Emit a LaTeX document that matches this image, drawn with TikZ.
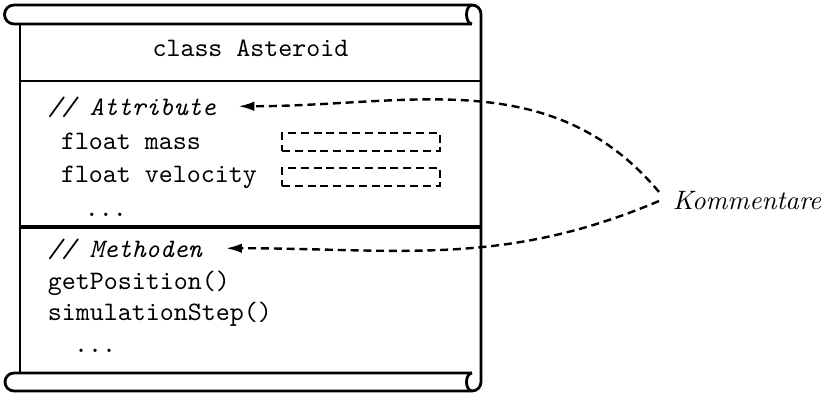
\documentclass[tikz,border=0pt]{standalone}
\usetikzlibrary{arrows.meta}
\begin{document}
\begin{tikzpicture}[x=0.375pt,y=0.375pt,
  frame/.style={line width=1.05pt, line join=round},
  code/.style={font=\ttfamily, anchor=base west, inner sep=0pt, outer sep=0pt},
  comment/.style={font=\ttfamily\itshape, anchor=base west, inner sep=0pt, outer sep=0pt},
  dashline/.style={line width=0.9pt, dash pattern=on 3pt off 1.8pt},
  slot/.style={draw, dashline, minimum width=59.25pt, minimum height=6.75pt, inner sep=0pt, outer sep=0pt},
  kom/.style={font=\itshape, anchor=base west, inner sep=5pt},
  arr/.style={dashline, -{Latex[length=6pt,width=3.6pt]}}
]
\useasboundingbox (0,0) rectangle (824,-393);

% scroll: top roll
\draw[frame] (472,-24) -- (14,-24) arc[start angle=270, end angle=90, radius=9.5]
  -- (472,-5) arc[start angle=90, end angle=0, radius=9]
  -- (481,-382) arc[start angle=0, end angle=-90, radius=9]
  -- (14,-391) arc[start angle=270, end angle=90, radius=9] -- (472,-373);
\draw[frame] (472,-5) arc[start angle=90, end angle=270, x radius=5.5, y radius=9.5];
\draw[frame] (472,-373) arc[start angle=90, end angle=270, x radius=5.5, y radius=9];
\draw[frame] (20,-24) -- (20,-373);

% separators
\draw[line width=1pt] (20,-81) -- (481,-81);
\draw[line width=1.5pt] (20,-227) -- (481,-227);

% texts
\node[code, anchor=base] (title) at (250.5,-56.5) {class Asteroid};
\node[comment] (attr) at (48,-116) {// Attribute};
\node[code] (mass) at (61,-149.5) {float mass};
\node[code] (vel) at (61,-183) {float velocity};
\node[code] (dotsa) at (85,-217) {...};
\node[comment] (meth) at (48,-258) {// Methoden};
\node[code] (getpos) at (48,-290) {getPosition()};
\node[code] (simstep) at (48,-321) {simulationStep()};
\node[code] (dotsb) at (74,-353) {...};

% dashed value slots
\node[slot] (massslot) at (361,-142) {};
\node[slot] (velslot) at (361,-177) {};

% comment label and arrows
\node[kom] (k) at (659,-210) {Kommentare};
\draw[arr] ([yshift=3.4pt]k.west) to[out=130,in=0] ([xshift=8.4pt,yshift=0.6pt]attr.east);
\draw[arr] (k.west) to[out=203,in=0] ([xshift=9pt,yshift=0.6pt]meth.east);
\end{tikzpicture}
\end{document}
